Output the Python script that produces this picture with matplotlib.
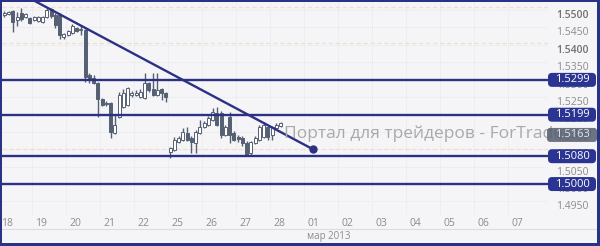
import numpy as np
import matplotlib
matplotlib.use('Agg')
import matplotlib.pyplot as plt
from matplotlib.patches import FancyBboxPatch, Rectangle
from matplotlib.lines import Line2D
from matplotlib.transforms import IdentityTransform, blended_transform_factory, ScaledTranslation

plt.rcParams['font.family'] = ['Open Sans', 'DejaVu Sans']

# --- данные (цены с картинки) ---
days = ['18', '19', '20', '21', '22', '25', '26', '27', '28', '01', '02', '03', '04', '05', '06', '07']

# 3-часовые свечи, 18-22 фев
o1 = [1.5485, 1.5488, 1.5496, 1.5471, 1.5491, 1.5479, 1.5476, 1.5471, 1.5468, 1.5465,
      1.5479, 1.5502, 1.5485, 1.5485, 1.5422, 1.5428, 1.5433, 1.5448, 1.5442, 1.5442,
      1.5313, 1.5304, 1.5290, 1.5244, 1.5232, 1.5232, 1.5146, 1.5192, 1.5221, 1.5227,
      1.5255, 1.5255, 1.5250, 1.5247, 1.5290, 1.5273, 1.5255, 1.5273, 1.5261]
h1 = [1.5496, 1.5496, 1.5499, 1.5494, 1.5505, 1.5491, 1.5479, 1.5482, 1.5482, 1.5482,
      1.5505, 1.5505, 1.5491, 1.5491, 1.5433, 1.5442, 1.5459, 1.5451, 1.5453, 1.5445,
      1.5318, 1.5313, 1.5293, 1.5247, 1.5238, 1.5235, 1.5198, 1.5264, 1.5272, 1.5278,
      1.5267, 1.5270, 1.5272, 1.5319, 1.5293, 1.5319, 1.5319, 1.5275, 1.5264]
l1 = [1.5479, 1.5485, 1.5436, 1.5453, 1.5468, 1.5476, 1.5459, 1.5468, 1.5465, 1.5462,
      1.5476, 1.5476, 1.5448, 1.5416, 1.5416, 1.5425, 1.5430, 1.5436, 1.5428, 1.5293,
      1.5290, 1.5287, 1.5192, 1.5224, 1.5224, 1.5132, 1.5143, 1.5189, 1.5218, 1.5224,
      1.5250, 1.5252, 1.5247, 1.5244, 1.5264, 1.5252, 1.5252, 1.5241, 1.5235]
c1 = [1.5491, 1.5494, 1.5465, 1.5479, 1.5473, 1.5488, 1.5462, 1.5479, 1.5479, 1.5479,
      1.5499, 1.5482, 1.5456, 1.5428, 1.5430, 1.5439, 1.5453, 1.5439, 1.5445, 1.5307,
      1.5298, 1.5290, 1.5244, 1.5227, 1.5229, 1.5149, 1.5169, 1.5255, 1.5261, 1.5275,
      1.5261, 1.5261, 1.5264, 1.5290, 1.5270, 1.5255, 1.5270, 1.5261, 1.5250]

# 25-28 фев
o2 = [1.5092, 1.5098, 1.5121, 1.5126, 1.5146, 1.5132, 1.5118, 1.5146, 1.5164, 1.5169,
      1.5184, 1.5204, 1.5204, 1.5141, 1.5192, 1.5146, 1.5135, 1.5132, 1.5118, 1.5089,
      1.5118, 1.5126, 1.5135, 1.5164, 1.5141, 1.5161, 1.5167]
h2 = [1.5106, 1.5135, 1.5138, 1.5161, 1.5164, 1.5138, 1.5155, 1.5184, 1.5181, 1.5195,
      1.5218, 1.5221, 1.5209, 1.5169, 1.5207, 1.5152, 1.5141, 1.5138, 1.5123, 1.5123,
      1.5138, 1.5169, 1.5178, 1.5166, 1.5166, 1.5175, 1.5178]
l2 = [1.5075, 1.5095, 1.5118, 1.5123, 1.5123, 1.5089, 1.5089, 1.5143, 1.5161, 1.5166,
      1.5181, 1.5166, 1.5132, 1.5138, 1.5118, 1.5123, 1.5120, 1.5109, 1.5080, 1.5080,
      1.5115, 1.5123, 1.5132, 1.5126, 1.5126, 1.5155, 1.5164]
c2 = [1.5103, 1.5126, 1.5132, 1.5149, 1.5126, 1.5121, 1.5149, 1.5164, 1.5175, 1.5189,
      1.5207, 1.5169, 1.5141, 1.5164, 1.5141, 1.5126, 1.5129, 1.5118, 1.5083, 1.5120,
      1.5132, 1.5164, 1.5169, 1.5135, 1.5164, 1.5169, 1.5175]

# время свечей в торговых днях (центр 3-часового бара)
t1 = (4.5 + 3 * np.arange(len(o1))) / 24
t2 = 5 + (1.5 + 3 * np.arange(len(o2))) / 24

levels = [1.5299, 1.5199, 1.5080, 1.5000]
dashed_levels = [1.5507, 1.5404, 1.5100]
trend_t = [1.03, 9.26]
trend_p = [1.5528, 1.5100]
y_ticks = [1.4950, 1.5000, 1.5050, 1.5100, 1.5150, 1.5200, 1.5250,
           1.5300, 1.5350, 1.5400, 1.5450, 1.5500]
bold_ticks = [1.5400, 1.5500]
last_label = '1.5163'
last_label_at = 1.5141

bg = '#f5f5f8'
navy = '#2c3184'
box_navy = '#2b3591'
candle_col = '#566073'
grid_col = '#e6e6ec'
W, H = 600, 246

fig = plt.figure(figsize=(W / 100, H / 100), dpi=100)
fig.patch.set_facecolor(bg)
ax = fig.add_axes([2 / W, 1 - 215 / H, 546 / W, 213 / H])
ax.set_facecolor(bg)
for s in ax.spines.values():
    s.set_visible(False)
ax.set_xticks([])
ax.set_yticks([])
ax.set_xlim(4 / 34, 550 / 34)
ax.set_ylim(1.49112, 1.55225)

# сетка
for d in range(len(days)):
    ax.axvline(d, color=grid_col, lw=0.7, ls=(0, (1, 1)), zorder=1)
for p in y_ticks:
    ax.axhline(p, color=grid_col, lw=0.7, ls=(0, (1, 1)), zorder=1)
for p in dashed_levels:
    ax.axhline(p, color='#eee2cc', lw=1.0, ls=(0, (3, 2)), zorder=2)

# свечи
t = np.concatenate([t1, t2])
o = np.array(o1 + o2)
h = np.array(h1 + h2)
l = np.array(l1 + l2)
c = np.array(c1 + c2)
up = c >= o
ax.vlines(t, l, h, color=candle_col, lw=1, zorder=3)
ax.bar(t, np.maximum(np.abs(c - o), 0.00008), bottom=np.minimum(o, c), width=0.085,
       color=np.where(up, '#ffffff', candle_col), edgecolor=candle_col, linewidth=0.7, zorder=4)

# уровни и трендовая
for p in levels:
    ax.axhline(p, color=navy, lw=1.7, zorder=5)
ax.plot(trend_t, trend_p, color=navy, lw=1.7, zorder=6)
ax.plot(trend_t[-1], trend_p[-1], 'o', ms=5, color=navy, zorder=7)

# подписи шкалы цены
tr = blended_transform_factory(ax.transAxes, ax.transData)
for p in y_ticks:
    ax.text(570 / 546, p, f'{p:.4f}', transform=tr, ha='center', va='top', fontsize=7.5,
            color='#707070' if p in bold_ticks else '#8c8c8c',
            fontweight='semibold' if p in bold_ticks else 'normal', clip_on=False, zorder=8)

# подписи дней
off = ax.get_xaxis_transform() + ScaledTranslation(0.03, 0, fig.dpi_scale_trans)
for d, lab in enumerate(days):
    ax.text(d, -8 / 213, lab, transform=off, ha='left', va='center', fontsize=7.5,
            color='#8c8c8c', clip_on=False)

idt = IdentityTransform()
fig.text(307, H - 237, 'мар 2013', transform=idt, ha='left', va='center', fontsize=7, color='#8c8c8c')
fig.add_artist(Line2D([2, 597], [H - 229, H - 229], transform=idt, color='#dcdce5', lw=0.8))

# водяной знак
fig.text(284, H - 134, 'Портал для трейдеров - ForTrader.ru', transform=idt, ha='left',
         va='center', fontsize=12.5, color='#a9a9a9', zorder=5)

# плашки уровней
for p in levels:
    yd = ax.transData.transform((0, p))[1]
    fig.add_artist(FancyBboxPatch((548, yd - 7), 48, 14, boxstyle='round,pad=0,rounding_size=4',
                                  transform=idt, fc=box_navy, ec='none', zorder=10))
    fig.text(572, yd, f'{p:.4f}', transform=idt, ha='center', va='center', fontsize=8,
             color='white', zorder=11)

yd = ax.transData.transform((0, last_label_at))[1]
fig.add_artist(FancyBboxPatch((547, yd - 7), 50, 14, boxstyle='round,pad=0,rounding_size=3',
                              transform=idt, fc=(0.33, 0.37, 0.43, 0.85), ec='none', zorder=10))
fig.text(572, yd, last_label, transform=idt, ha='center', va='center', fontsize=8,
         color='#e2e5ec', zorder=11)

# рамка
for x0, y0, w, hh in [(0, 0, W, 3), (0, H - 2, W, 2), (0, 0, 2, H), (597, 0, 3, H)]:
    fig.add_artist(Rectangle((x0, y0), w, hh, transform=idt, fc='#2a3288', ec='none', zorder=20))

fig.savefig('out.png', dpi=100)
